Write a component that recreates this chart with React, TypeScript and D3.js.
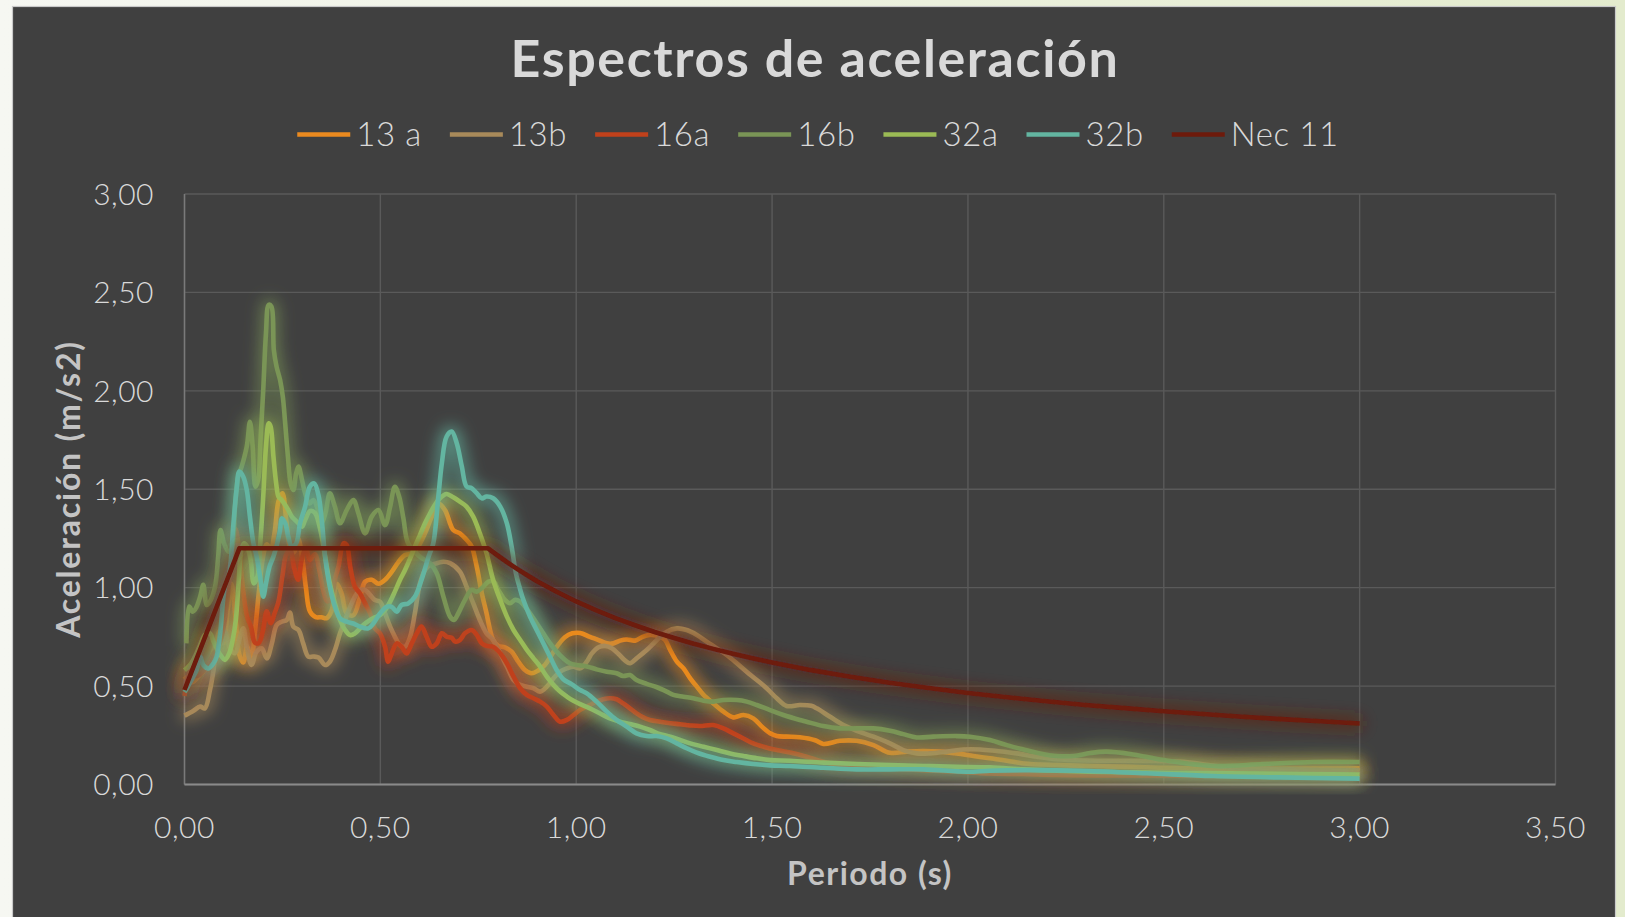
import React from "react";
import * as d3 from "d3";

const W = 1625;
const H = 917;

// ---- data ----
const seriesNames = ["13 a", "13b", "16a", "16b", "32a", "32b", "Nec 11"];
const seriesColors = ["#ea8a1f", "#a88a5a", "#c0411b", "#7a9556", "#9bbb55", "#63b5a1", "#6d1a0b"];

const xTicks = [0, 0.5, 1, 1.5, 2, 2.5, 3, 3.5];
const yTicks = [0, 0.5, 1, 1.5, 2, 2.5, 3];

const s13a: [number, number][] = [[0,0.55],[0.02,0.52],[0.04,0.56],[0.06,0.6],[0.08,0.72],[0.09,0.78],[0.1,0.72],[0.11,0.88],[0.12,1.02],[0.13,0.85],[0.14,0.66],[0.15,0.62],[0.16,0.7],[0.17,0.63],[0.18,0.78],[0.19,0.98],[0.2,1.15],[0.21,1.22],[0.22,1.2],[0.23,1.28],[0.24,1.44],[0.25,1.48],[0.26,1.34],[0.27,1.2],[0.28,1.18],[0.29,1.25],[0.3,1.16],[0.31,1.0],[0.32,0.88],[0.335,0.85],[0.35,0.85],[0.363,0.845],[0.376,0.886],[0.388,1.02],[0.401,0.97],[0.414,0.87],[0.431,0.86],[0.448,0.95],[0.461,1.03],[0.478,1.04],[0.495,1.02],[0.512,1.04],[0.529,1.08],[0.546,1.13],[0.563,1.166],[0.58,1.174],[0.597,1.21],[0.614,1.276],[0.631,1.36],[0.648,1.428],[0.665,1.394],[0.686,1.293],[0.703,1.276],[0.72,1.243],[0.733,1.209],[0.746,1.107],[0.759,0.972],[0.771,0.87],[0.78,0.785],[0.788,0.734],[0.801,0.704],[0.818,0.697],[0.835,0.675],[0.852,0.624],[0.869,0.582],[0.886,0.565],[0.903,0.579],[0.92,0.607],[0.937,0.658],[0.954,0.709],[0.971,0.748],[0.99,0.768],[1.01,0.77],[1.035,0.75],[1.057,0.734],[1.078,0.717],[1.095,0.717],[1.112,0.731],[1.129,0.737],[1.15,0.731],[1.167,0.748],[1.188,0.76],[1.21,0.754],[1.227,0.734],[1.24,0.683],[1.257,0.624],[1.274,0.59],[1.291,0.539],[1.308,0.497],[1.325,0.455],[1.35,0.412],[1.376,0.37],[1.401,0.341],[1.427,0.353],[1.452,0.336],[1.474,0.294],[1.495,0.26],[1.512,0.246],[1.537,0.243],[1.571,0.24],[1.61,0.225],[1.631,0.206],[1.673,0.222],[1.716,0.222],[1.759,0.2],[1.801,0.161],[1.844,0.167],[1.886,0.17],[1.929,0.167],[1.971,0.158],[2.014,0.145],[2.056,0.133],[2.099,0.121],[2.142,0.107],[2.227,0.099],[2.312,0.094],[2.45,0.088],[2.6,0.08],[2.8,0.08],[3.0,0.082]];

const s13b: [number, number][] = [[0,0.35],[0.023,0.375],[0.04,0.396],[0.052,0.387],[0.065,0.48],[0.074,0.58],[0.084,0.7],[0.095,0.717],[0.103,0.777],[0.116,0.692],[0.129,0.667],[0.142,0.751],[0.15,0.794],[0.159,0.7],[0.171,0.607],[0.184,0.675],[0.197,0.692],[0.21,0.641],[0.223,0.717],[0.235,0.81],[0.248,0.827],[0.261,0.836],[0.269,0.873],[0.278,0.802],[0.291,0.785],[0.303,0.717],[0.316,0.65],[0.329,0.65],[0.342,0.645],[0.359,0.607],[0.371,0.624],[0.384,0.683],[0.397,0.768],[0.41,0.836],[0.423,0.903],[0.435,0.954],[0.448,0.988],[0.461,0.988],[0.474,0.962],[0.486,0.937],[0.499,0.929],[0.512,0.869],[0.525,0.802],[0.537,0.751],[0.55,0.708],[0.563,0.7],[0.576,0.751],[0.588,0.869],[0.601,1.022],[0.614,1.09],[0.627,1.115],[0.644,1.124],[0.661,1.132],[0.678,1.125],[0.703,1.082],[0.72,1.005],[0.737,0.921],[0.754,0.836],[0.771,0.768],[0.788,0.734],[0.806,0.667],[0.823,0.599],[0.84,0.531],[0.857,0.506],[0.874,0.497],[0.891,0.489],[0.908,0.472],[0.925,0.497],[0.942,0.54],[0.959,0.574],[0.976,0.59],[0.993,0.599],[1.01,0.59],[1.027,0.624],[1.04,0.666],[1.057,0.697],[1.074,0.704],[1.091,0.692],[1.108,0.663],[1.125,0.629],[1.137,0.616],[1.154,0.641],[1.18,0.683],[1.206,0.734],[1.231,0.776],[1.257,0.793],[1.282,0.785],[1.308,0.76],[1.333,0.726],[1.359,0.692],[1.384,0.658],[1.41,0.616],[1.435,0.573],[1.461,0.531],[1.486,0.489],[1.512,0.438],[1.537,0.399],[1.571,0.404],[1.6,0.4],[1.614,0.387],[1.648,0.344],[1.682,0.302],[1.716,0.273],[1.759,0.243],[1.801,0.209],[1.835,0.175],[1.869,0.158],[1.903,0.158],[1.946,0.167],[1.988,0.178],[2.031,0.178],[2.073,0.17],[2.125,0.158],[2.176,0.141],[2.227,0.128],[2.3,0.122],[2.45,0.12],[2.54,0.116],[2.67,0.087],[2.8,0.078],[3.0,0.072]];

const s16a: [number, number][] = [[0,0.45],[0.01,0.55],[0.02,0.6],[0.03,0.55],[0.05,0.58],[0.07,0.65],[0.09,0.72],[0.1,0.8],[0.11,0.95],[0.12,1.15],[0.13,1.3],[0.14,1.18],[0.15,0.98],[0.16,0.85],[0.17,0.8],[0.18,0.72],[0.19,0.72],[0.2,0.78],[0.21,0.88],[0.22,0.82],[0.23,0.87],[0.24,0.93],[0.25,1.06],[0.26,1.17],[0.27,1.19],[0.28,1.1],[0.29,1.04],[0.3,1.15],[0.31,1.2],[0.32,1.14],[0.333,1.17],[0.345,1.08],[0.355,0.98],[0.365,0.93],[0.375,0.95],[0.385,1.05],[0.393,1.107],[0.406,1.225],[0.414,1.217],[0.423,1.107],[0.435,1.005],[0.448,0.971],[0.461,0.92],[0.474,0.869],[0.486,0.793],[0.499,0.768],[0.512,0.7],[0.52,0.624],[0.529,0.666],[0.542,0.717],[0.554,0.7],[0.567,0.666],[0.58,0.717],[0.593,0.768],[0.605,0.802],[0.618,0.751],[0.631,0.7],[0.644,0.717],[0.657,0.768],[0.669,0.751],[0.682,0.745],[0.691,0.726],[0.703,0.734],[0.716,0.768],[0.733,0.785],[0.746,0.76],[0.759,0.717],[0.771,0.704],[0.788,0.7],[0.806,0.667],[0.823,0.616],[0.84,0.548],[0.857,0.489],[0.874,0.455],[0.891,0.438],[0.908,0.421],[0.925,0.396],[0.942,0.353],[0.959,0.319],[0.976,0.328],[0.993,0.353],[1.01,0.379],[1.035,0.404],[1.052,0.421],[1.069,0.433],[1.086,0.438],[1.103,0.433],[1.12,0.412],[1.137,0.387],[1.154,0.361],[1.171,0.341],[1.188,0.328],[1.214,0.319],[1.24,0.311],[1.265,0.306],[1.291,0.3],[1.316,0.297],[1.35,0.302],[1.376,0.285],[1.401,0.26],[1.427,0.234],[1.452,0.209],[1.478,0.192],[1.512,0.175],[1.546,0.162],[1.588,0.141],[1.631,0.116],[1.673,0.099],[1.716,0.09],[1.801,0.082],[1.886,0.073],[1.971,0.065],[2.056,0.056],[2.142,0.053],[2.227,0.048],[2.4,0.046],[2.6,0.044],[2.8,0.042],[3.0,0.04]];

const s16b: [number, number][] = [[0.005,0.717],[0.012,0.904],[0.021,0.878],[0.029,0.895],[0.04,0.954],[0.048,1.014],[0.057,0.912],[0.065,0.929],[0.078,1.005],[0.086,1.157],[0.092,1.293],[0.101,1.225],[0.112,1.183],[0.12,1.192],[0.129,1.412],[0.137,1.564],[0.146,1.615],[0.159,1.717],[0.167,1.843],[0.174,1.717],[0.181,1.513],[0.188,1.547],[0.194,1.75],[0.201,2.004],[0.208,2.292],[0.215,2.437],[0.222,2.428],[0.228,2.208],[0.235,2.123],[0.244,2.055],[0.251,1.97],[0.257,1.835],[0.264,1.666],[0.271,1.53],[0.278,1.496],[0.285,1.581],[0.291,1.615],[0.3,1.547],[0.308,1.479],[0.319,1.428],[0.329,1.445],[0.34,1.4],[0.35,1.33],[0.36,1.38],[0.371,1.479],[0.384,1.411],[0.397,1.327],[0.414,1.394],[0.431,1.445],[0.444,1.377],[0.461,1.276],[0.478,1.361],[0.495,1.394],[0.512,1.318],[0.525,1.411],[0.537,1.513],[0.548,1.462],[0.559,1.35],[0.571,1.225],[0.601,1.157],[0.627,1.124],[0.644,1.073],[0.661,0.954],[0.678,0.853],[0.688,0.836],[0.699,0.87],[0.716,0.938],[0.733,0.989],[0.746,0.98],[0.759,0.997],[0.776,1.031],[0.789,1.031],[0.801,0.989],[0.818,0.938],[0.831,0.921],[0.844,0.938],[0.857,0.929],[0.869,0.904],[0.882,0.87],[0.899,0.819],[0.916,0.768],[0.933,0.718],[0.95,0.675],[0.967,0.641],[0.984,0.616],[1.001,0.607],[1.027,0.6],[1.052,0.585],[1.078,0.573],[1.103,0.565],[1.12,0.551],[1.137,0.556],[1.154,0.531],[1.18,0.511],[1.206,0.494],[1.231,0.472],[1.248,0.455],[1.274,0.446],[1.299,0.438],[1.325,0.426],[1.35,0.421],[1.376,0.429],[1.41,0.429],[1.435,0.421],[1.461,0.404],[1.495,0.378],[1.529,0.353],[1.571,0.328],[1.588,0.319],[1.631,0.297],[1.673,0.285],[1.716,0.285],[1.759,0.285],[1.801,0.273],[1.835,0.256],[1.869,0.239],[1.912,0.243],[1.971,0.246],[2.005,0.243],[2.056,0.226],[2.099,0.2],[2.142,0.178],[2.184,0.158],[2.227,0.145],[2.27,0.145],[2.312,0.16],[2.354,0.167],[2.414,0.155],[2.499,0.124],[2.627,0.094],[2.754,0.104],[2.882,0.114],[3.0,0.114]];

const s32a: [number, number][] = [[0,0.58],[0.014,0.607],[0.027,0.65],[0.04,0.709],[0.052,0.76],[0.065,0.768],[0.074,0.726],[0.084,0.683],[0.095,0.65],[0.103,0.633],[0.114,0.666],[0.123,0.734],[0.131,0.836],[0.138,1.022],[0.145,1.192],[0.152,1.225],[0.16,1.208],[0.169,1.14],[0.177,1.022],[0.186,1.056],[0.194,1.242],[0.201,1.462],[0.208,1.717],[0.215,1.835],[0.22,1.818],[0.227,1.666],[0.234,1.53],[0.24,1.462],[0.248,1.445],[0.257,1.42],[0.265,1.394],[0.274,1.361],[0.282,1.344],[0.291,1.327],[0.3,1.31],[0.308,1.344],[0.321,1.39],[0.333,1.38],[0.346,1.3],[0.359,1.157],[0.371,1.022],[0.384,0.92],[0.397,0.836],[0.41,0.785],[0.423,0.759],[0.435,0.768],[0.448,0.793],[0.461,0.818],[0.474,0.836],[0.486,0.849],[0.499,0.861],[0.512,0.886],[0.525,0.929],[0.537,0.98],[0.55,1.039],[0.563,1.09],[0.576,1.149],[0.588,1.208],[0.601,1.267],[0.614,1.327],[0.627,1.378],[0.639,1.42],[0.652,1.454],[0.669,1.476],[0.686,1.459],[0.703,1.437],[0.72,1.412],[0.737,1.361],[0.754,1.276],[0.771,1.175],[0.788,1.039],[0.806,0.938],[0.823,0.853],[0.84,0.785],[0.857,0.734],[0.874,0.684],[0.891,0.641],[0.908,0.599],[0.925,0.548],[0.942,0.506],[0.959,0.472],[0.976,0.447],[0.993,0.425],[1.01,0.408],[1.035,0.387],[1.061,0.361],[1.086,0.336],[1.112,0.319],[1.137,0.307],[1.163,0.294],[1.188,0.277],[1.214,0.256],[1.24,0.243],[1.265,0.226],[1.291,0.209],[1.325,0.192],[1.359,0.175],[1.393,0.158],[1.427,0.145],[1.461,0.133],[1.495,0.124],[1.546,0.121],[1.631,0.111],[1.716,0.104],[1.801,0.099],[1.886,0.094],[1.971,0.09],[2.056,0.087],[2.142,0.077],[2.227,0.07],[2.312,0.065],[2.5,0.06],[2.75,0.055],[3.0,0.05]];

const s32b: [number, number][] = [[0,0.47],[0.006,0.489],[0.018,0.531],[0.031,0.582],[0.04,0.65],[0.048,0.607],[0.061,0.59],[0.074,0.616],[0.082,0.65],[0.091,0.768],[0.103,1.005],[0.114,1.07],[0.125,1.327],[0.133,1.5],[0.14,1.59],[0.15,1.564],[0.159,1.496],[0.167,1.361],[0.176,1.225],[0.184,1.158],[0.193,1.056],[0.201,0.954],[0.208,1.022],[0.217,1.107],[0.227,1.158],[0.236,1.22],[0.244,1.293],[0.248,1.352],[0.257,1.327],[0.265,1.259],[0.274,1.208],[0.285,1.225],[0.295,1.327],[0.308,1.412],[0.32,1.513],[0.331,1.53],[0.342,1.47],[0.351,1.33],[0.359,1.157],[0.371,1.005],[0.384,0.903],[0.397,0.844],[0.414,0.827],[0.431,0.818],[0.448,0.802],[0.469,0.793],[0.482,0.818],[0.499,0.869],[0.516,0.903],[0.529,0.903],[0.542,0.878],[0.554,0.912],[0.571,0.92],[0.588,0.954],[0.605,1.039],[0.623,1.157],[0.635,1.225],[0.648,1.462],[0.657,1.632],[0.669,1.767],[0.682,1.793],[0.695,1.734],[0.708,1.615],[0.72,1.514],[0.733,1.505],[0.746,1.48],[0.759,1.454],[0.771,1.463],[0.788,1.454],[0.806,1.412],[0.823,1.327],[0.835,1.209],[0.846,1.073],[0.855,1.005],[0.865,0.938],[0.882,0.853],[0.899,0.785],[0.916,0.718],[0.933,0.65],[0.95,0.582],[0.967,0.535],[0.988,0.51],[1.01,0.48],[1.027,0.463],[1.052,0.421],[1.078,0.37],[1.103,0.328],[1.129,0.294],[1.154,0.26],[1.18,0.246],[1.205,0.246],[1.231,0.234],[1.257,0.209],[1.282,0.184],[1.308,0.162],[1.342,0.141],[1.376,0.124],[1.41,0.114],[1.452,0.104],[1.495,0.097],[1.546,0.094],[1.631,0.085],[1.716,0.077],[1.801,0.077],[1.886,0.077],[1.997,0.065],[2.056,0.07],[2.142,0.073],[2.286,0.07],[2.456,0.057],[2.627,0.043],[2.797,0.036],[3.0,0.03]];

const sNec: [number, number][] = [[0,0.48],[0.14,1.2],[0.775,1.2],[0.8,1.163],[0.825,1.127],[0.85,1.094],[0.875,1.063],[0.9,1.033],[0.95,0.979],[1.0,0.93],[1.05,0.886],[1.1,0.845],[1.15,0.809],[1.2,0.775],[1.25,0.744],[1.3,0.715],[1.35,0.689],[1.4,0.664],[1.45,0.641],[1.5,0.62],[1.6,0.581],[1.7,0.547],[1.8,0.517],[1.9,0.49],[2.0,0.465],[2.1,0.443],[2.2,0.423],[2.3,0.404],[2.4,0.388],[2.5,0.372],[2.6,0.358],[2.7,0.344],[2.8,0.332],[2.9,0.321],[3.0,0.31]];

const seriesData = [s13a, s13b, s16a, s16b, s32a, s32b, sNec];

// ---- layout ----
const plotLeft = 184.5;
const plotRight = 1555.5;
const plotTop = 194;
const plotBottom = 784.5;
const FONT = "Lato, 'Open Sans', 'DejaVu Sans', sans-serif";

const fmt = (v: number) => d3.format(".2f")(v).replace(".", ",");

function measure(text: string, font: string, spacing: number): number {
  if (typeof document === "undefined") return text.length * 16;
  const c = document.createElement("canvas");
  const ctx = c.getContext("2d");
  if (!ctx) return text.length * 16;
  ctx.font = font;
  return ctx.measureText(text).width + spacing * text.length;
}

export default function App() {
  const x = d3.scaleLinear().domain([0, 3.5]).range([plotLeft, plotRight]);
  const y = d3.scaleLinear().domain([0, 3]).range([plotBottom, plotTop]);

  const smooth = d3
    .line<[number, number]>()
    .x((d) => x(d[0]))
    .y((d) => y(d[1]))
    .curve(d3.curveCatmullRom.alpha(0.5));
  const straight = d3
    .line<[number, number]>()
    .x((d) => x(d[0]))
    .y((d) => y(d[1]))
    .curve(d3.curveLinear);

  // legend layout
  const legendFontSize = 33;
  const legendSpacing = 0.6;
  const legendFont = `300 ${legendFontSize}px ${FONT}`;
  const swatchW = 53;
  const swatchGap = 6;
  const entryGap = 28;
  const widths = seriesNames.map((n) => measure(n, legendFont, legendSpacing));
  const entryW = widths.map((w) => swatchW + swatchGap + w);
  const totalW = d3.sum(entryW) + entryGap * (seriesNames.length - 1);
  const legendCenter = 818;
  let cursor = legendCenter - totalW / 2;
  const legendPos = entryW.map((w) => {
    const p = cursor;
    cursor += w + entryGap;
    return p;
  });
  const legendY = 134.5;

  return (
    <svg
      width={W}
      height={H}
      style={{ position: "absolute", left: 0, top: 0, display: "block" }}
      xmlns="http://www.w3.org/2000/svg"
    >
      <defs>
        <linearGradient id="pageBg" x1="0" y1="0" x2="1" y2="0">
          <stop offset="0" stopColor="#f6f7f2" />
          <stop offset="1" stopColor="#e3ebcd" />
        </linearGradient>
        <filter id="glow" filterUnits="userSpaceOnUse" x="0" y="0" width={W} height={H}>
          <feMorphology in="SourceGraphic" operator="dilate" radius="3" result="d" />
          <feGaussianBlur in="d" stdDeviation="8" result="b" />
          <feComponentTransfer in="b" result="g">
            <feFuncA type="linear" slope="0.7" />
          </feComponentTransfer>
          <feMerge>
            <feMergeNode in="g" />
            <feMergeNode in="SourceGraphic" />
          </feMerge>
        </filter>
        <clipPath id="plotClip">
          <rect x={plotLeft - 20} y={plotTop - 20} width={plotRight - plotLeft + 40} height={plotBottom - plotTop + 30} />
        </clipPath>
      </defs>

      <rect x={0} y={0} width={W} height={H} fill="url(#pageBg)" />
      <rect x={12.5} y={6.5} width={1603} height={H} fill="#404040" stroke="#c9c9c9" strokeWidth={1.2} />

      {/* gridlines */}
      {yTicks.map((t) => (
        <line key={"gy" + t} x1={plotLeft} x2={plotRight} y1={y(t)} y2={y(t)} stroke="#5a5a5a" strokeWidth={1.4} />
      ))}
      {xTicks.map((t) => (
        <line key={"gx" + t} x1={x(t)} x2={x(t)} y1={plotTop} y2={plotBottom} stroke="#5a5a5a" strokeWidth={1.4} />
      ))}
      <line x1={plotLeft} x2={plotLeft} y1={plotTop} y2={plotBottom} stroke="#7a7a7a" strokeWidth={1.5} />
      <line x1={plotLeft} x2={plotRight} y1={plotBottom} y2={plotBottom} stroke="#8a8a8a" strokeWidth={2} />

      {/* series */}
      <g clipPath="url(#plotClip)">
        {seriesData.map((s, i) => (
          <path
            key={seriesNames[i]}
            d={(i === 6 ? straight(s) : smooth(s)) || ""}
            fill="none"
            stroke={seriesColors[i]}
            strokeWidth={4.6}
            strokeLinejoin="round"
            strokeLinecap="butt"
            filter="url(#glow)"
          />
        ))}
      </g>

      {/* tick labels */}
      {yTicks.map((t) => (
        <text
          key={"ty" + t}
          x={154}
          y={y(t)}
          dy="0.36em"
          textAnchor="end"
          fontFamily={FONT}
          fontWeight={300}
          fontSize={30}
          letterSpacing={0.5}
          fill="#d9d9d9"
        >
          {fmt(t)}
        </text>
      ))}
      {xTicks.map((t) => (
        <text
          key={"tx" + t}
          x={x(t)}
          y={838}
          textAnchor="middle"
          fontFamily={FONT}
          fontWeight={300}
          fontSize={30}
          letterSpacing={0.5}
          fill="#d9d9d9"
        >
          {fmt(t)}
        </text>
      ))}

      {/* title */}
      <text
        x={815}
        y={77}
        textAnchor="middle"
        fontFamily={FONT}
        fontWeight={700}
        fontSize={52}
        letterSpacing={1.6}
        fill="#d9d9d9"
      >
        Espectros de aceleración
      </text>

      {/* legend */}
      {seriesNames.map((n, i) => (
        <g key={"lg" + n}>
          <line
            x1={legendPos[i]}
            x2={legendPos[i] + swatchW}
            y1={legendY}
            y2={legendY}
            stroke={seriesColors[i]}
            strokeWidth={4.6}
          />
          <text
            x={legendPos[i] + swatchW + swatchGap}
            y={145.5}
            fontFamily={FONT}
            fontWeight={300}
            fontSize={legendFontSize}
            letterSpacing={legendSpacing}
            fill="#d9d9d9"
          >
            {n}
          </text>
        </g>
      ))}

      {/* axis titles */}
      <text
        x={870}
        y={885}
        textAnchor="middle"
        fontFamily={FONT}
        fontWeight={700}
        fontSize={32}
        letterSpacing={1.5}
        fill="#c4c4c4"
      >
        Periodo (s)
      </text>
      <text
        transform="translate(80,489) rotate(-90)"
        textAnchor="middle"
        fontFamily={FONT}
        fontWeight={700}
        fontSize={32}
        letterSpacing={1.8}
        fill="#c4c4c4"
      >
        Aceleración (m/s2)
      </text>
    </svg>
  );
}
